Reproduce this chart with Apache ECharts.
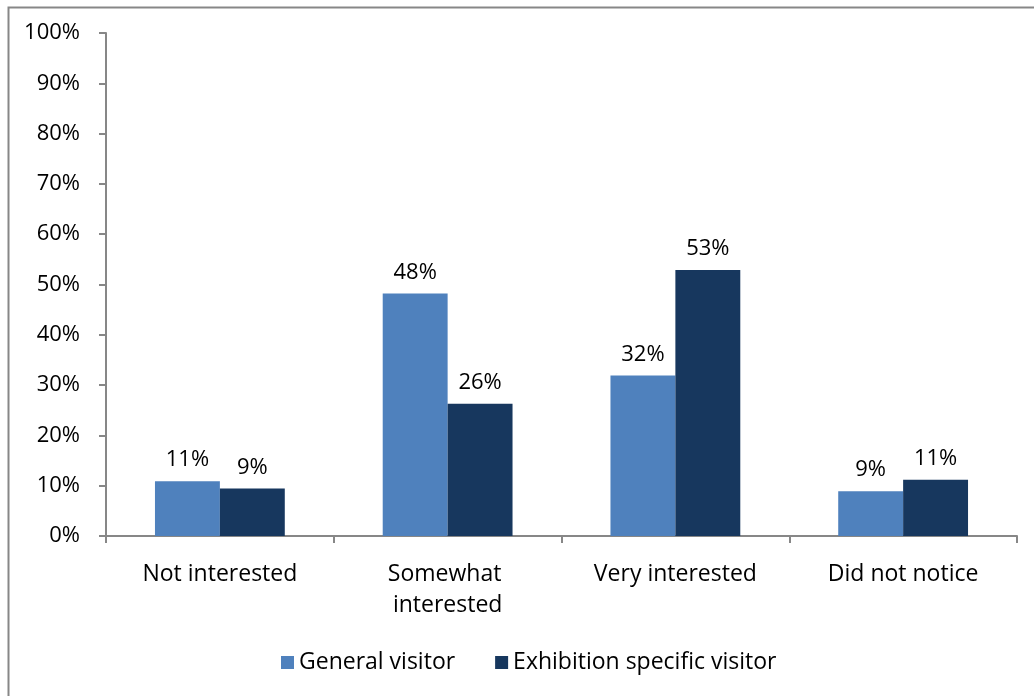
<!DOCTYPE html>
<html>
<head>
<meta charset="utf-8">
<script src="https://cdn.jsdelivr.net/npm/echarts@6/dist/echarts.min.js"></script>
<style>
html,body{margin:0;padding:0;background:#fff;}
#chart{width:1034px;height:696px;}
</style>
</head>
<body>
<div id="chart"></div>
<script>
const categories = ['Not interested', 'Somewhat interested', 'Very interested', 'Did not notice'];
const generalVisitor = [10.9, 48.2, 31.9, 8.9];
const exhibitionVisitor = [9.45, 26.3, 52.9, 11.2];
const seriesNames = ['General visitor', 'Exhibition specific visitor'];
const yTicks = [0, 10, 20, 30, 40, 50, 60, 70, 80, 90, 100];

const FONT = 'Open Sans';
const chart = echarts.init(document.getElementById('chart'), null, {renderer: 'canvas'});
const labelCfg = {
  show: true, position: 'top', distance: 10,
  fontFamily: FONT, fontSize: 22, color: '#000',
  formatter: p => Math.round(p.value) + '%'
};
chart.setOption({
  animation: false,
  backgroundColor: '#fff',
  textStyle: {fontFamily: FONT},
  graphic: [{
    type: 'rect', left: 6, top: 5, silent: true,
    shape: {x: 0, y: 0, width: 1200, height: 900},
    style: {fill: 'none', stroke: '#878787', lineWidth: 2}
  }],
  grid: {left: 106, right: 17, top: 33, bottom: 160, containLabel: false},
  legend: {
    bottom: 17, left: 276, itemWidth: 13, itemHeight: 13, itemGap: 40,
    icon: 'rect',
    textStyle: {fontFamily: FONT, fontSize: 23, color: '#000'},
    data: seriesNames
  },
  xAxis: {
    type: 'category', data: categories,
    axisLine: {lineStyle: {color: '#878787', width: 2}},
    axisTick: {show: true, length: 7, lineStyle: {color: '#878787', width: 2}},
    axisLabel: {
      fontFamily: FONT, fontSize: 23, color: '#000', margin: 23,
      lineHeight: 31, interval: 0,
      width: 195, overflow: 'break'
    }
  },
  yAxis: {
    type: 'value', min: 0, max: 100, interval: 10,
    splitLine: {show: false},
    axisLine: {show: true, lineStyle: {color: '#878787', width: 2}},
    axisTick: {show: true, length: 7, lineStyle: {color: '#878787', width: 2}},
    axisLabel: {
      fontFamily: FONT, fontSize: 22, color: '#000', margin: 26,
      formatter: v => yTicks.includes(v) ? v + '%' : ''
    }
  },
  series: [
    {
      name: seriesNames[0], type: 'bar', data: generalVisitor,
      itemStyle: {color: '#4F81BD'}, barGap: '0%', barCategoryGap: '43%',
      label: labelCfg
    },
    {
      name: seriesNames[1], type: 'bar', data: exhibitionVisitor,
      itemStyle: {color: '#17375E'}, barGap: '0%', barCategoryGap: '43%',
      label: labelCfg
    }
  ]
});
</script>
</body>
</html>
